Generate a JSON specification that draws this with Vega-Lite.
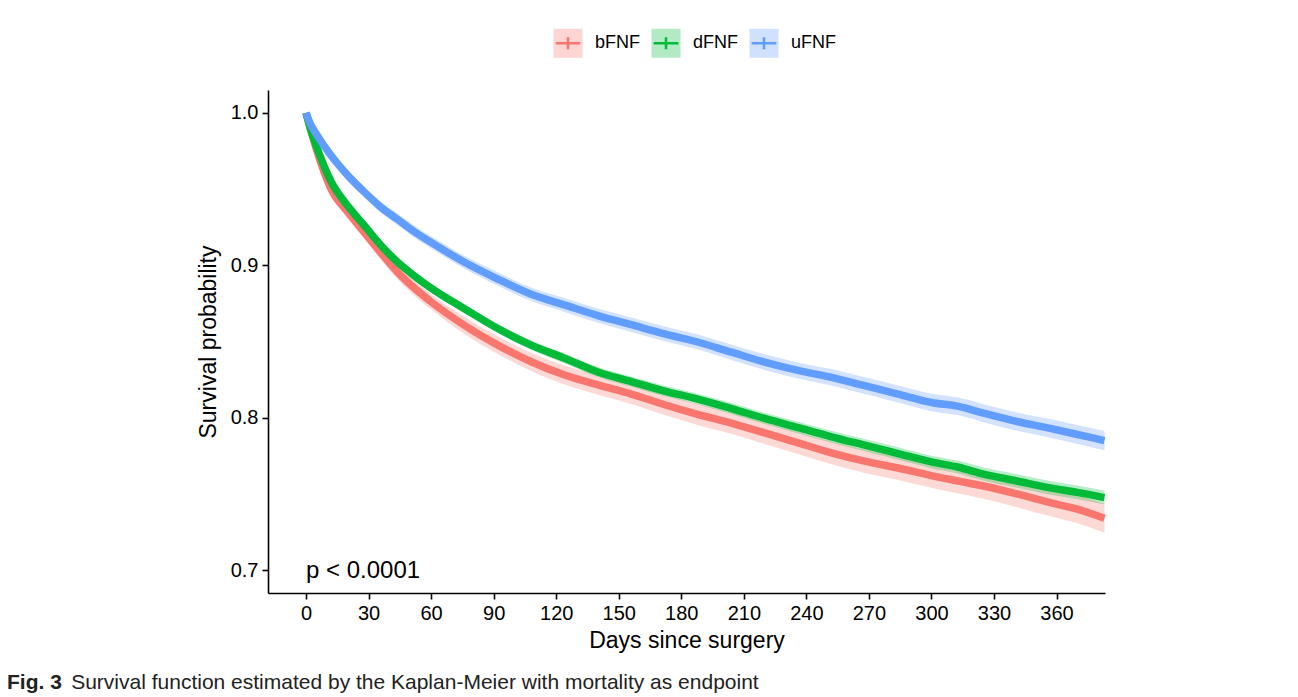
{
  "$schema": "https://vega.github.io/schema/vega-lite/v6.json",
  "width": 837,
  "height": 503,
  "autosize": {"type": "none"},
  "padding": {"left": 268, "top": 90, "right": 193, "bottom": 104},
  "background": "white",
  "config": {
    "view": {"stroke": null},
    "font": "Liberation Sans",
    "axis": {
      "grid": false,
      "domainColor": "black",
      "domainWidth": 1.6,
      "tickColor": "black",
      "tickWidth": 1.6,
      "tickSize": 6,
      "labelFontSize": 20,
      "labelColor": "black",
      "labelPadding": 4,
      "labelFont": "Liberation Sans",
      "titleFont": "Liberation Sans",
      "titleFontSize": 23,
      "titleFontWeight": "normal",
      "titleColor": "black"
    }
  },
  "title": {
    "text": "Fig. 3",
    "subtitle": "\u200b\u00a0\u00a0\u00a0\u00a0\u00a0\u00a0\u00a0\u00a0\u00a0\u00a0\u00a0Survival function estimated by the Kaplan-Meier with mortality as endpoint",
    "orient": "bottom",
    "anchor": "start",
    "frame": "group",
    "dx": -261,
    "offset": 20,
    "font": "Liberation Sans",
    "fontSize": 21,
    "fontWeight": "bold",
    "color": "#222222",
    "subtitleFont": "Liberation Sans",
    "subtitleFontSize": 21,
    "subtitleColor": "#222222",
    "subtitlePadding": -21
  },
  "data": {
    "values": [
      {"g": "bFNF", "day": 0, "s": 1.0, "lo": 1.0, "hi": 1.0},
      {"g": "bFNF", "day": 2, "s": 0.99, "lo": 0.988, "hi": 0.992},
      {"g": "bFNF", "day": 5, "s": 0.976, "lo": 0.973, "hi": 0.979},
      {"g": "bFNF", "day": 12, "s": 0.95, "lo": 0.9465, "hi": 0.9535},
      {"g": "bFNF", "day": 20, "s": 0.935, "lo": 0.931, "hi": 0.939},
      {"g": "bFNF", "day": 28, "s": 0.9215, "lo": 0.9175, "hi": 0.9255},
      {"g": "bFNF", "day": 36, "s": 0.908, "lo": 0.9035, "hi": 0.9125},
      {"g": "bFNF", "day": 44, "s": 0.8954, "lo": 0.8906, "hi": 0.9002},
      {"g": "bFNF", "day": 52, "s": 0.885, "lo": 0.88, "hi": 0.89},
      {"g": "bFNF", "day": 60, "s": 0.876, "lo": 0.871, "hi": 0.881},
      {"g": "bFNF", "day": 76, "s": 0.8606, "lo": 0.855, "hi": 0.8662},
      {"g": "bFNF", "day": 92, "s": 0.8476, "lo": 0.8418, "hi": 0.8534},
      {"g": "bFNF", "day": 108, "s": 0.8367, "lo": 0.8307, "hi": 0.8427},
      {"g": "bFNF", "day": 124, "s": 0.828, "lo": 0.8218, "hi": 0.8342},
      {"g": "bFNF", "day": 140, "s": 0.8215, "lo": 0.8151, "hi": 0.8279},
      {"g": "bFNF", "day": 156, "s": 0.8155, "lo": 0.809, "hi": 0.822},
      {"g": "bFNF", "day": 172, "s": 0.8085, "lo": 0.8018, "hi": 0.8152},
      {"g": "bFNF", "day": 187, "s": 0.8025, "lo": 0.7956, "hi": 0.8094},
      {"g": "bFNF", "day": 204, "s": 0.7965, "lo": 0.7895, "hi": 0.8035},
      {"g": "bFNF", "day": 220, "s": 0.79, "lo": 0.7828, "hi": 0.7972},
      {"g": "bFNF", "day": 236, "s": 0.7835, "lo": 0.7762, "hi": 0.7908},
      {"g": "bFNF", "day": 252, "s": 0.777, "lo": 0.7695, "hi": 0.7845},
      {"g": "bFNF", "day": 268, "s": 0.7715, "lo": 0.7638, "hi": 0.7792},
      {"g": "bFNF", "day": 284, "s": 0.767, "lo": 0.7592, "hi": 0.7748},
      {"g": "bFNF", "day": 300, "s": 0.762, "lo": 0.754, "hi": 0.77},
      {"g": "bFNF", "day": 313, "s": 0.7584, "lo": 0.7502, "hi": 0.7666},
      {"g": "bFNF", "day": 325, "s": 0.7552, "lo": 0.7468, "hi": 0.7636},
      {"g": "bFNF", "day": 341, "s": 0.75, "lo": 0.7413, "hi": 0.7587},
      {"g": "bFNF", "day": 357, "s": 0.7443, "lo": 0.7353, "hi": 0.7533},
      {"g": "bFNF", "day": 370, "s": 0.74, "lo": 0.7307, "hi": 0.7493},
      {"g": "bFNF", "day": 383, "s": 0.734, "lo": 0.7245, "hi": 0.7435},

      {"g": "dFNF", "day": 0, "s": 1.0, "lo": 1.0, "hi": 1.0},
      {"g": "dFNF", "day": 2, "s": 0.99, "lo": 0.9885, "hi": 0.9915},
      {"g": "dFNF", "day": 5, "s": 0.978, "lo": 0.9762, "hi": 0.9798},
      {"g": "dFNF", "day": 12, "s": 0.955, "lo": 0.953, "hi": 0.957},
      {"g": "dFNF", "day": 20, "s": 0.939, "lo": 0.9367, "hi": 0.9413},
      {"g": "dFNF", "day": 28, "s": 0.926, "lo": 0.9235, "hi": 0.9285},
      {"g": "dFNF", "day": 36, "s": 0.913, "lo": 0.9104, "hi": 0.9156},
      {"g": "dFNF", "day": 44, "s": 0.902, "lo": 0.8993, "hi": 0.9047},
      {"g": "dFNF", "day": 52, "s": 0.893, "lo": 0.8902, "hi": 0.8958},
      {"g": "dFNF", "day": 60, "s": 0.885, "lo": 0.8821, "hi": 0.8879},
      {"g": "dFNF", "day": 76, "s": 0.8715, "lo": 0.8685, "hi": 0.8745},
      {"g": "dFNF", "day": 92, "s": 0.8585, "lo": 0.8555, "hi": 0.8615},
      {"g": "dFNF", "day": 108, "s": 0.8476, "lo": 0.8445, "hi": 0.8507},
      {"g": "dFNF", "day": 124, "s": 0.839, "lo": 0.8358, "hi": 0.8422},
      {"g": "dFNF", "day": 140, "s": 0.83, "lo": 0.8267, "hi": 0.8333},
      {"g": "dFNF", "day": 156, "s": 0.8237, "lo": 0.8203, "hi": 0.8271},
      {"g": "dFNF", "day": 172, "s": 0.8175, "lo": 0.814, "hi": 0.821},
      {"g": "dFNF", "day": 187, "s": 0.8125, "lo": 0.809, "hi": 0.816},
      {"g": "dFNF", "day": 204, "s": 0.806, "lo": 0.8024, "hi": 0.8096},
      {"g": "dFNF", "day": 220, "s": 0.7995, "lo": 0.7958, "hi": 0.8032},
      {"g": "dFNF", "day": 236, "s": 0.7935, "lo": 0.7897, "hi": 0.7973},
      {"g": "dFNF", "day": 252, "s": 0.7875, "lo": 0.7836, "hi": 0.7914},
      {"g": "dFNF", "day": 268, "s": 0.782, "lo": 0.778, "hi": 0.786},
      {"g": "dFNF", "day": 284, "s": 0.7765, "lo": 0.7724, "hi": 0.7806},
      {"g": "dFNF", "day": 300, "s": 0.771, "lo": 0.7669, "hi": 0.7751},
      {"g": "dFNF", "day": 313, "s": 0.7675, "lo": 0.7633, "hi": 0.7717},
      {"g": "dFNF", "day": 325, "s": 0.763, "lo": 0.7587, "hi": 0.7673},
      {"g": "dFNF", "day": 341, "s": 0.7585, "lo": 0.7541, "hi": 0.7629},
      {"g": "dFNF", "day": 357, "s": 0.754, "lo": 0.7495, "hi": 0.7585},
      {"g": "dFNF", "day": 370, "s": 0.751, "lo": 0.7465, "hi": 0.7555},
      {"g": "dFNF", "day": 383, "s": 0.7476, "lo": 0.743, "hi": 0.7522},

      {"g": "uFNF", "day": 0, "s": 1.0, "lo": 1.0, "hi": 1.0},
      {"g": "uFNF", "day": 2, "s": 0.993, "lo": 0.991, "hi": 0.995},
      {"g": "uFNF", "day": 5, "s": 0.986, "lo": 0.9835, "hi": 0.9885},
      {"g": "uFNF", "day": 12, "s": 0.972, "lo": 0.969, "hi": 0.975},
      {"g": "uFNF", "day": 20, "s": 0.959, "lo": 0.9558, "hi": 0.9622},
      {"g": "uFNF", "day": 28, "s": 0.948, "lo": 0.9445, "hi": 0.9515},
      {"g": "uFNF", "day": 36, "s": 0.938, "lo": 0.9343, "hi": 0.9417},
      {"g": "uFNF", "day": 44, "s": 0.93, "lo": 0.9262, "hi": 0.9338},
      {"g": "uFNF", "day": 52, "s": 0.922, "lo": 0.918, "hi": 0.926},
      {"g": "uFNF", "day": 60, "s": 0.915, "lo": 0.911, "hi": 0.919},
      {"g": "uFNF", "day": 76, "s": 0.902, "lo": 0.8978, "hi": 0.9062},
      {"g": "uFNF", "day": 92, "s": 0.891, "lo": 0.8866, "hi": 0.8954},
      {"g": "uFNF", "day": 108, "s": 0.881, "lo": 0.8765, "hi": 0.8855},
      {"g": "uFNF", "day": 124, "s": 0.874, "lo": 0.8694, "hi": 0.8786},
      {"g": "uFNF", "day": 140, "s": 0.867, "lo": 0.8623, "hi": 0.8717},
      {"g": "uFNF", "day": 156, "s": 0.861, "lo": 0.8562, "hi": 0.8658},
      {"g": "uFNF", "day": 172, "s": 0.855, "lo": 0.8501, "hi": 0.8599},
      {"g": "uFNF", "day": 187, "s": 0.85, "lo": 0.845, "hi": 0.855},
      {"g": "uFNF", "day": 204, "s": 0.843, "lo": 0.8379, "hi": 0.8481},
      {"g": "uFNF", "day": 220, "s": 0.8365, "lo": 0.8313, "hi": 0.8417},
      {"g": "uFNF", "day": 236, "s": 0.831, "lo": 0.8257, "hi": 0.8363},
      {"g": "uFNF", "day": 252, "s": 0.8265, "lo": 0.8211, "hi": 0.8319},
      {"g": "uFNF", "day": 268, "s": 0.821, "lo": 0.8155, "hi": 0.8265},
      {"g": "uFNF", "day": 284, "s": 0.8155, "lo": 0.8099, "hi": 0.8211},
      {"g": "uFNF", "day": 300, "s": 0.81, "lo": 0.8043, "hi": 0.8157},
      {"g": "uFNF", "day": 313, "s": 0.8074, "lo": 0.8016, "hi": 0.8132},
      {"g": "uFNF", "day": 325, "s": 0.803, "lo": 0.7971, "hi": 0.8089},
      {"g": "uFNF", "day": 341, "s": 0.7975, "lo": 0.7915, "hi": 0.8035},
      {"g": "uFNF", "day": 357, "s": 0.793, "lo": 0.7869, "hi": 0.7991},
      {"g": "uFNF", "day": 370, "s": 0.789, "lo": 0.7828, "hi": 0.7952},
      {"g": "uFNF", "day": 383, "s": 0.785, "lo": 0.7787, "hi": 0.7913}
    ]
  },
  "encoding": {
    "x": {
      "field": "day",
      "type": "quantitative",
      "scale": {"domain": [-18.25, 383.25], "nice": false, "zero": false},
      "axis": {
        "values": [0, 30, 60, 90, 120, 150, 180, 210, 240, 270, 300, 330, 360],
        "title": "Days since surgery",
        "titlePadding": 6
      }
    },
    "color": {
      "field": "g",
      "type": "nominal",
      "scale": {"domain": ["bFNF", "dFNF", "uFNF"], "range": ["#F8766D", "#00BA38", "#619CFF"]},
      "legend": {
        "orient": "none",
        "legendX": 284,
        "legendY": -63,
        "direction": "horizontal",
        "title": null,
        "symbolType": "M-0.85,0H0.85H1V-1H-1V1H1V0Z M0,-0.42V0.42",
        "symbolSize": 841,
        "symbolStrokeWidth": 2.5,
        "symbolOpacity": 1,
        "labelFontSize": 18,
        "labelColor": "black",
        "labelOffset": 11,
        "columnPadding": 6,
        "encode": {
          "symbols": {
            "update": {
              "fill": {"scale": "color", "field": "value"},
              "fillOpacity": {"value": 0.3},
              "stroke": {"scale": "color", "field": "value"},
              "strokeOpacity": {"value": 1},
              "opacity": {"value": 1},
              "strokeDash": {"value": [24.65, 1000]}
            }
          }
        }
      }
    }
  },
  "layer": [
    {
      "mark": {"type": "area", "opacity": 0.28, "interpolate": "monotone"},
      "encoding": {
        "y": {"field": "lo", "type": "quantitative", "scale": {"domain": [0.685, 1.015], "nice": false, "zero": false}},
        "y2": {"field": "hi"}
      }
    },
    {
      "mark": {"type": "line", "strokeWidth": 7.5, "interpolate": "monotone"},
      "encoding": {
        "y": {
          "field": "s",
          "type": "quantitative",
          "scale": {"domain": [0.685, 1.015], "nice": false, "zero": false},
          "axis": {"values": [0.7, 0.8, 0.9, 1.0], "format": ".1f", "title": "Survival probability", "titlePadding": 10}
        }
      }
    },
    {
      "data": {"values": [{"day": 0, "s": 0.7, "label": "p < 0.0001"}]},
      "mark": {"type": "text", "align": "left", "baseline": "middle", "fontSize": 24, "dy": 1},
      "encoding": {
        "y": {"field": "s", "type": "quantitative"},
        "text": {"field": "label"},
        "color": {"value": "black"}
      }
    }
  ]
}
